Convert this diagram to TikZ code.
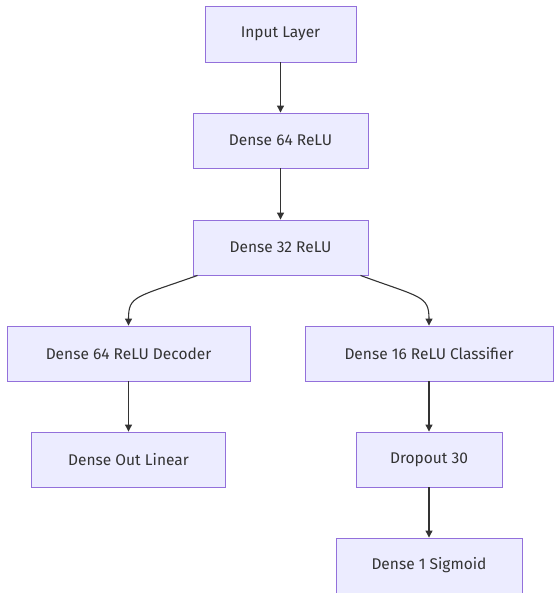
\documentclass[tikz,border=0pt]{standalone}
\usepackage{fontspec}
\setmainfont{Fira Sans}
\usetikzlibrary{arrows.meta}
\definecolor{boxfill}{HTML}{ECECFF}
\definecolor{boxline}{HTML}{9370DB}
\definecolor{txt}{HTML}{333333}
\begin{document}
\begin{tikzpicture}[x=1pt,y=-1pt,
  layer/.style={draw=boxline,fill=boxfill,line width=0.9pt,text=txt,font=\fontsize{15.5}{18}\selectfont,minimum height=55pt,inner sep=0pt},
  arr/.style={draw=txt,line width=1.1pt,-{Triangle[length=7pt,width=7pt]}}]
\useasboundingbox (0,0) rectangle (555,593);
\node[layer,minimum width=151pt,minimum height=56pt] (inp) at (280.5,34) {Input Layer};
\node[layer,minimum width=175pt] (d64) at (280.5,140.5) {Dense 64 ReLU};
\node[layer,minimum width=175pt] (d32) at (280.5,247.5) {Dense 32 ReLU};
\node[layer,minimum width=243pt] (dec) at (128.5,353.5) {Dense 64 ReLU Decoder};
\node[layer,minimum width=248pt] (cls) at (429,353.5) {Dense 16 ReLU Classifier};
\node[layer,minimum width=194pt] (out) at (128.5,459.5) {Dense Out Linear};
\node[layer,minimum width=146pt] (drop) at (429,459.5) {Dropout 30};
\node[layer,minimum width=186pt] (sig) at (429,565.5) {Dense 1 Sigmoid};
\draw[arr] (inp) -- (d64);
\draw[arr] (d64) -- (d32);
\draw[arr] ([xshift=-83pt]d32.south) .. controls +(-62,22) and +(0,-30) .. (dec.north);
\draw[arr] ([xshift=80pt]d32.south) .. controls +(60,22) and +(0,-30) .. (cls.north);
\draw[arr] (dec) -- (out);
\draw[arr] (cls) -- (drop);
\draw[arr] (drop) -- (sig);
\end{tikzpicture}
\end{document}
